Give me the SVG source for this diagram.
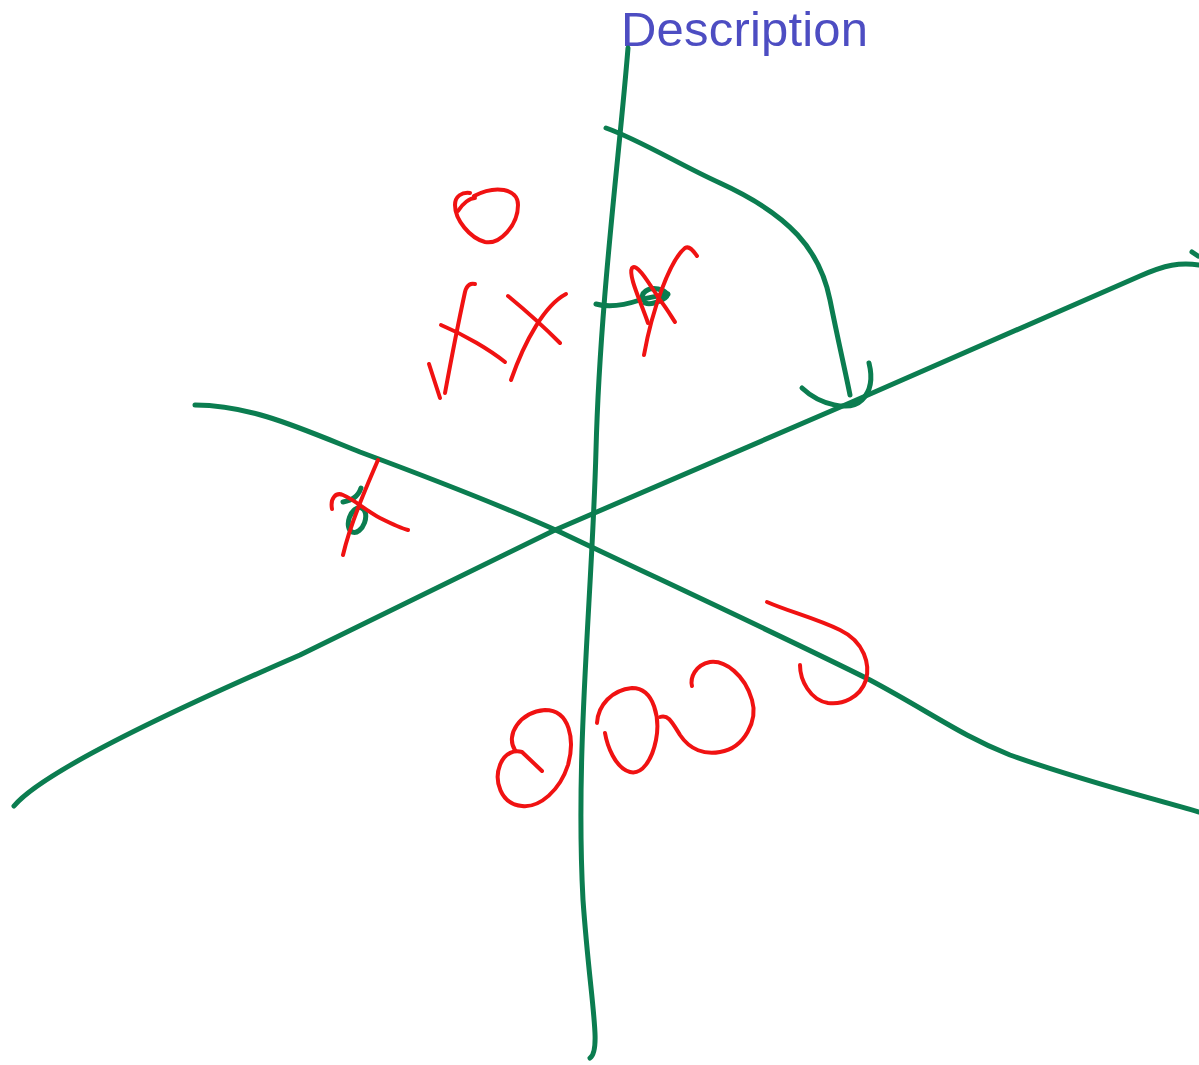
<svg xmlns="http://www.w3.org/2000/svg" width="1199" height="1065" viewBox="0 0 1199 1065">
<style>
.g{fill:none;stroke:#0b7d50;stroke-width:5;stroke-linecap:round;stroke-linejoin:round}
.r{fill:none;stroke:#f01212;stroke-width:4;stroke-linecap:round;stroke-linejoin:round}
.t{font-family:"Liberation Sans",Arial,sans-serif;font-size:49px;fill:#4d4dc2}
</style>
<rect width="1199" height="1065" fill="#ffffff"/>
<text class="t" x="621" y="46" textLength="247">Description</text>
<g id="green-strokes">
<path class="g" d="M628,48 C620,150 600,300 596,450 C592,600 575,750 583,900 C590,1000 602,1050 590,1058"/>
<path class="g" d="M606,128 C640,140 680,165 720,183 C790,215 820,250 830,300 C838,340 845,370 850,395"/>
<path class="g" d="M802,388 C820,405 850,412 862,400 C872,390 872,375 869,363"/>
<path class="g" d="M14,806 C40,775 150,720 300,655 L555,530 L845,405 L1140,276 C1165,265 1180,262 1199,265"/>
<path class="g" d="M1192,252 L1198,256"/>
<path class="g" d="M195,405 C250,405 300,428 360,452 C430,478 500,505 560,532 C650,575 780,635 870,680 C930,712 960,735 1010,755 C1080,780 1140,795 1199,812"/>
<path class="g" d="M343,502 C352,500 358,497 361,488"/>
<ellipse class="g" cx="357" cy="520" rx="8" ry="13" transform="rotate(20 357 520)"/>
<path class="g" d="M596,304 C610,308 625,305 640,300 C650,297 660,296 668,294"/>
<path class="g" d="M643,300 C640,293 648,287 658,289 C666,291 670,295 665,298 C660,302 650,305 645,303"/>
</g>
<g id="red-strokes">
<path class="r" d="M474,196 C495,185 518,188 518,205 C518,225 500,245 485,242 C470,238 455,220 455,205 C455,196 462,192 470,193"/>
<path class="r" d="M458,211 C463,203 470,198 475,198"/>
<path class="r" d="M429,364 L440,398"/>
<path class="r" d="M445,393 C452,355 460,315 465,292 C467,284 471,283 475,284"/>
<path class="r" d="M441,325 C465,335 490,350 505,362"/>
<path class="r" d="M508,296 C525,310 545,328 560,343"/>
<path class="r" d="M511,380 C525,340 545,305 566,294"/>
<path class="r" d="M644,355 C652,310 670,260 685,248 C690,245 694,252 697,256"/>
<path class="r" d="M648,323 C640,300 628,275 632,268 C637,262 650,285 660,300 C668,310 672,318 675,322"/>
<path class="r" d="M378,460 C365,490 350,525 343,555"/>
<path class="r" d="M332,509 C330,498 336,492 343,495 C355,500 365,510 380,518 C392,524 400,528 408,530"/>
<path class="r" d="M515,750 C505,735 520,712 545,710 C570,710 575,740 568,765 C560,790 540,808 522,806 C500,804 494,780 500,765 C505,752 515,750 522,752 L542,771"/>
<path class="r" d="M597,723 C598,705 612,690 632,688 C655,688 660,720 656,740 C652,760 642,775 630,772 C615,768 607,745 605,733"/>
<path class="r" d="M660,717 C668,714 672,722 680,735 C690,750 705,755 720,752 C745,748 758,720 752,700 C745,675 725,660 710,662 C695,665 690,678 692,686"/>
<path class="r" d="M767,602 C790,612 815,618 840,630 C865,642 870,665 866,680 C860,698 842,705 828,703 C810,700 800,680 800,665"/>
</g>
</svg>
